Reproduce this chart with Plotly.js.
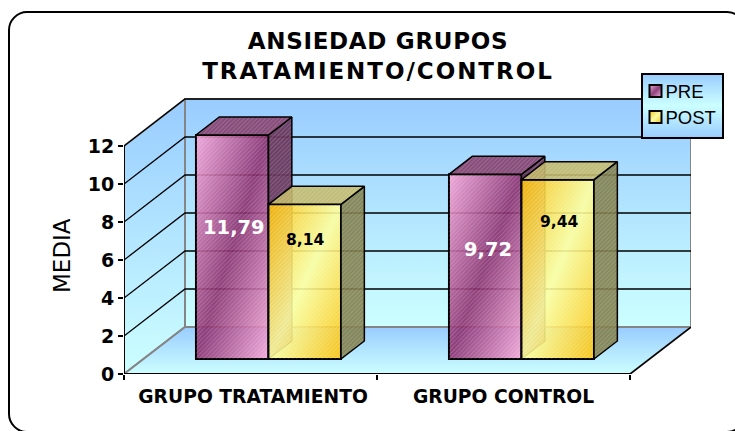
<!DOCTYPE html>
<html><head><meta charset="utf-8">
<script src="https://cdn.plot.ly/plotly-3.0.1.min.js"></script>
<style>html,body{margin:0;padding:0;background:#fff;overflow:hidden}</style>
</head><body><div id="chart" style="width:735px;height:431px"></div>
<script>
// ---- data ----
const categories = ['GRUPO TRATAMIENTO', 'GRUPO CONTROL'];
const seriesNames = ['PRE', 'POST'];
const preValues = [11.79, 9.72];
const postValues = [8.14, 9.44];
const yTicks = [0, 2, 4, 6, 8, 10, 12];
const titleLines = ['ANSIEDAD GRUPOS', 'TRATAMIENTO/CONTROL'];
const yTitle = 'MEDIA';

// ---- geometry of the oblique projection (layout only) ----
const W = 735, H = 431, L = 124, T = 98, R = 691, B = 374;
const mR = 2, mT = 2;                       // real margins; plot area is limited through axis domains
const paperW = W - mR - L, paperH = B - mT;
const perCat = 253, perUnit = 19, depthX = 61, depthY = 47;
const nCat = categories.length, yMax = yTicks[yTicks.length - 1];
const px = (cat, d) => cat + d * depthX / perCat;
const py = (val, d) => val + d * depthY / perUnit;
const dFront = 15 / 47, dBack = 33 / 47;
const barStart = 0.2075, barW = 0.2866;
const paperX = p => (p - L) / paperW, paperY = p => (B - p) / paperH;

const traces = [];
function poly(pts, o) {
  return Object.assign({ type: 'scatter', mode: 'lines', x: pts.map(p => p[0]), y: pts.map(p => p[1]),
    hoverinfo: 'skip', showlegend: false }, o);
}
const wallScale = [[0, '#ccffff'], [1, '#99ccff']];
// back wall
traces.push(poly([[px(0,1),py(0,1)],[px(nCat,1),py(0,1)],[px(nCat,1),py(yMax,1)],[px(0,1),py(yMax,1)],[px(0,1),py(0,1)]],
  { fill: 'toself', fillgradient: { type: 'vertical', colorscale: wallScale }, line: { color: '#858585', width: 2 } }));
// side wall
traces.push(poly([[px(0,0),py(0,0)],[px(0,1),py(0,1)],[px(0,1),py(yMax,1)],[px(0,0),py(yMax,0)],[px(0,0),py(0,0)]],
  { fill: 'toself', fillgradient: { type: 'vertical', colorscale: wallScale }, line: { color: '#858585', width: 2 } }));
// floor
traces.push(poly([[px(0,0),py(0,0)],[px(nCat,0),py(0,0)],[px(nCat,1),py(0,1)],[px(0,1),py(0,1)],[px(0,0),py(0,0)]],
  { fill: 'toself', fillgradient: { type: 'vertical', colorscale: wallScale }, line: { color: '#858585', width: 2 } }));
// gridlines
yTicks.forEach(v => { if (v > 0) traces.push(poly([[px(0,0),py(v,0)],[px(0,1),py(v,1)],[px(nCat,1),py(v,1)]], { line: { color: '#000', width: 1.3 } })); });
// right floor edge, front floor edge, y axis line
traces.push(poly([[px(nCat,0),py(0,0)],[px(nCat,1),py(0,1)]], { line: { color: '#000', width: 1.5 } }));
traces.push(poly([[px(0,0),py(0,0)],[px(nCat,0),py(0,0)]], { line: { color: '#000', width: 2 } }));
traces.push(poly([[px(0,0),py(0,0)],[px(0,0),py(yMax,0)]], { line: { color: '#000', width: 2 } }));

// bars: one overlaid subplot per series so later series paint over earlier ones
function seriesTraces(vals, idx, axisId, frontColor, sideColor, topColor) {
  const xa = 'x' + axisId, ya = 'y' + axisId;
  const base = py(0, dFront);
  vals.forEach((v, c) => {
    const x0 = c + barStart + idx * barW, x1 = x0 + barW;
    traces.push(poly([[px(x1,dFront),py(0,dFront)],[px(x1,dBack),py(0,dBack)],[px(x1,dBack),py(v,dBack)],[px(x1,dFront),py(v,dFront)],[px(x1,dFront),py(0,dFront)]],
      { xaxis: xa, yaxis: ya, fill: 'toself', fillcolor: sideColor, line: { color: '#000', width: 1.5 }, name: 'face' }));
    traces.push(poly([[px(x0,dFront),py(v,dFront)],[px(x1,dFront),py(v,dFront)],[px(x1,dBack),py(v,dBack)],[px(x0,dBack),py(v,dBack)],[px(x0,dFront),py(v,dFront)]],
      { xaxis: xa, yaxis: ya, fill: 'toself', fillcolor: topColor, line: { color: '#000', width: 1.5 }, name: 'face' }));
  });
  traces.push({ type: 'bar', name: seriesNames[idx], xaxis: xa, yaxis: ya,
    x: categories.map((_, c) => px(c + barStart + (idx + 0.5) * barW, dFront)),
    y: vals, base: vals.map(() => base), width: barW,
    marker: { color: frontColor, line: { color: '#000', width: 2 } }, hoverinfo: 'skip', showlegend: true, legendgroup: seriesNames[idx] });
}
seriesTraces(preValues, 0, '2', '#b55a94', 'rgba(104,52,90,0.92)', 'rgba(134,66,112,0.92)');
seriesTraces(postValues, 1, '3', '#fbf08c', 'rgba(128,124,72,0.88)', 'rgba(196,184,104,0.88)');

// data labels
const fmt = v => v.toFixed(2).replace('.', ',');
const labelLift = [[20, 17], [42, 47]];
const labelNudge = [[2, 3], [0, 1]];
const labelSize = [19.5, 15.5];
const labelColor = ['#fff', '#000'];
const annotations = [];
[preValues, postValues].forEach((vals, s) => vals.forEach((v, c) => {
  annotations.push({ x: px(c + barStart + (s + 0.5) * barW, dFront), y: py(0, dFront) + v / 2, xref: 'x', yref: 'y',
    xshift: labelNudge[s][c], yshift: labelLift[s][c], text: '<b>' + fmt(v) + '</b>', showarrow: false,
    font: { family: 'DejaVu Sans', size: labelSize[s], color: labelColor[s] } });
}));
// y axis title
annotations.push({ xref: 'paper', yref: 'paper', x: paperX(62), y: paperY(256), xanchor: 'center', yanchor: 'middle', text: yTitle, textangle: -90, showarrow: false,
  font: { family: 'DejaVu Sans', size: 23, color: '#000' } });

const hidden = { visible: false, fixedrange: true };
const xDom = [0, (R - L) / paperW], yDom = [0, (B - T) / paperH];
const xRange = [0, (R - L) / perCat], yRange = [0, (B - T) / perUnit];
const k = 18 * 0.54, r = 18, fl = 9, fr = 745, ft = 12, fb = 432;
const P = (x, y) => paperX(x) + ' ' + paperY(y);
const layout = {
  width: W, height: H, paper_bgcolor: '#fff', plot_bgcolor: 'rgba(0,0,0,0)',
  margin: { l: L, r: mR, t: mT, b: H - B, pad: 0 },
  barmode: 'overlay', showlegend: true,
  title: { text: titleLines.join('<br>'), x: 378 / W, xanchor: 'center', y: 1 - 30 / H, yanchor: 'top',
    font: { family: 'DejaVu Sans', size: 23, color: '#000', weight: 700 } },
  xaxis: { domain: xDom, range: xRange, tickmode: 'array', tickvals: [0.51, 1.5], ticktext: categories,
    ticks: '', ticklen: 0, showgrid: false, zeroline: false, showline: false, fixedrange: true, ticklabelstandoff: 9,
    tickfont: { family: 'DejaVu Sans', size: 18.7, weight: 700, color: '#000' },
    minor: { tickmode: 'array', tickvals: [0, 1, 2], ticks: 'outside', ticklen: 5, tickwidth: 2, tickcolor: '#000', showgrid: false } },
  yaxis: { domain: yDom, range: yRange, tickmode: 'array', tickvals: yTicks, ticks: 'outside', ticklen: 5, tickwidth: 2, tickcolor: '#000',
    showgrid: false, zeroline: false, showline: false, fixedrange: true,
    tickfont: { family: 'DejaVu Sans', size: 19, weight: 700, color: '#000' } },
  xaxis2: Object.assign({ overlaying: 'x', domain: xDom, range: xRange }, hidden),
  yaxis2: Object.assign({ overlaying: 'y', domain: yDom, range: yRange }, hidden),
  xaxis3: Object.assign({ overlaying: 'x', domain: xDom, range: xRange }, hidden),
  yaxis3: Object.assign({ overlaying: 'y', domain: yDom, range: yRange }, hidden),
  legend: { x: paperX(641), y: paperY(73), xanchor: 'left', yanchor: 'top', bgcolor: '#99ccff', bordercolor: '#000', borderwidth: 1.5,
    font: { family: 'Liberation Sans', size: 18.5, color: '#000' }, traceorder: 'normal', tracegroupgap: 14, itemwidth: 30, indentation: -10 },
  annotations: annotations,
  shapes: [{ type: 'path', xref: 'paper', yref: 'paper', layer: 'above', line: { color: '#000', width: 2 },
    path: ['M', P(fl + r, ft), 'L', P(fr - r, ft), 'C', P(fr - r + k, ft), P(fr, ft + r - k), P(fr, ft + r),
      'L', P(fr, fb - r), 'C', P(fr, fb - r + k), P(fr - r + k, fb), P(fr - r, fb),
      'L', P(fl + r, fb), 'C', P(fl + r - k, fb), P(fl, fb - r + k), P(fl, fb - r),
      'L', P(fl, ft + r), 'C', P(fl, ft + r - k), P(fl + r - k, ft), P(fl + r, ft), 'Z'].join(' ') }]
};

Plotly.newPlot('chart', traces, layout, { staticPlot: true, displayModeBar: false }).then(gd => {
  // diagonal gradients + dither hatch on the 3D faces, as in the spreadsheet chart
  const svgNS = 'http://www.w3.org/2000/svg';
  const svg = gd.querySelector('svg.main-svg');
  const defs = document.createElementNS(svgNS, 'defs');
  defs.innerHTML =
    '<linearGradient id="gPre" x1="0" y1="0" x2="1" y2="1">' +
      '<stop offset="0" stop-color="#f9a3d6" stop-opacity=".88"/><stop offset=".5" stop-color="#8a2a6a" stop-opacity=".88"/><stop offset="1" stop-color="#f9a3d6" stop-opacity=".88"/></linearGradient>' +
    '<linearGradient id="gPost" x1="0" y1="0" x2="1" y2="1">' +
      '<stop offset="0" stop-color="#ffc000" stop-opacity=".88"/><stop offset=".5" stop-color="#ffff99" stop-opacity=".88"/><stop offset="1" stop-color="#ffc000" stop-opacity=".88"/></linearGradient>' +
    '<linearGradient id="gLegend" x1="0" y1="0" x2="0" y2="1"><stop offset="0" stop-color="#99ccff"/><stop offset=".5" stop-color="#ccffff"/><stop offset="1" stop-color="#99ccff"/></linearGradient>' +
    '<pattern id="hatch" width="3" height="3" patternUnits="userSpaceOnUse" patternTransform="rotate(45)"><rect width="1" height="3" fill="rgba(255,255,255,.15)"/></pattern>';
  svg.insertBefore(defs, svg.firstChild);
  const hatch = p => { const c = p.cloneNode(true); c.style.fill = 'url(#hatch)'; c.style.fillOpacity = 1; c.style.stroke = 'none'; p.parentNode.insertBefore(c, p.nextSibling); };
  gd.querySelectorAll('.barlayer .point path').forEach(p => {
    const isPre = p.style.fill.indexOf('181') >= 0;
    p.style.fill = isPre ? 'url(#gPre)' : 'url(#gPost)';
    p.style.fillOpacity = 1;
    hatch(p);
  });
  gd.querySelectorAll('.scatterlayer .js-fill').forEach(p => { if (p.style.fill.indexOf('url') < 0) hatch(p); });

  // title: line placement and tracking of the original
  const tl = gd.querySelectorAll('.gtitle tspan.line');
  if (tl.length === 2) {
    tl[0].setAttribute('y', 49); tl[1].setAttribute('y', 79);
    tl[0].setAttribute('dy', 0); tl[1].setAttribute('dy', 0);
    tl[0].style.letterSpacing = '0.7px'; tl[1].style.letterSpacing = '1.95px';
  }

  // legend: box, entries
  const bg = gd.querySelector('.legend .bg');
  if (bg) { bg.style.fill = 'url(#gLegend)'; bg.setAttribute('width', 81); bg.setAttribute('height', 64); }
  gd.querySelectorAll('.legend .traces').forEach((t, i) => {
    const sw = t.querySelector('.legendsymbols');
    if (sw) sw.setAttribute('transform', 'translate(3,0)');
    const sp = t.querySelector('.legendpoints path');
    if (sp) { sp.style.fill = i === 0 ? 'url(#gPre)' : 'url(#gPost)'; sp.style.fillOpacity = 1; }
    const tx = t.querySelector('text.legendtext');
    if (tx) tx.setAttribute('x', parseFloat(tx.getAttribute('x')) - 7);
    t.setAttribute('transform', t.getAttribute('transform') + ' translate(0,' + (i === 0 ? -2 : -3) + ')');
  });
});
</script></body></html>
